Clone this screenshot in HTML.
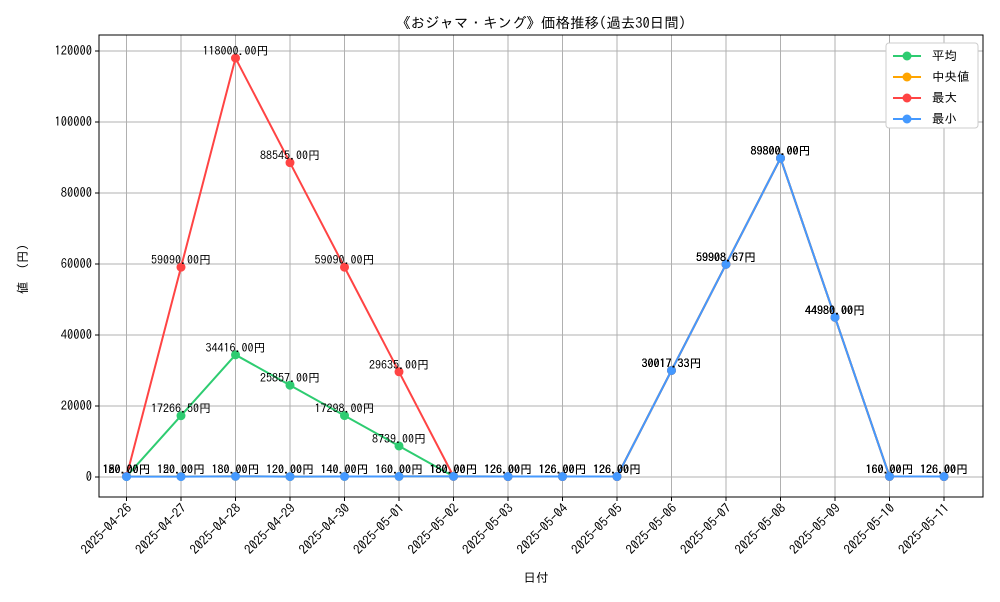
<!DOCTYPE html>
<html><head><meta charset="utf-8"><style>
body{margin:0;background:#fff;font-family:"IPAGothic","Liberation Sans",sans-serif}
text{font-family:"IPAGothic","Noto Sans CJK JP",sans-serif}
</style></head><body>
<svg id="c" width="1000" height="600" xmlns="http://www.w3.org/2000/svg"></svg>
<script>
const dates=["2025-04-26","2025-04-27","2025-04-28","2025-04-29","2025-04-30","2025-05-01","2025-05-02","2025-05-03","2025-05-04","2025-05-05","2025-05-06","2025-05-07","2025-05-08","2025-05-09","2025-05-10","2025-05-11"];
const avgVals=[150,17266.5,34416,25857,17298,8739,180,126,126,126,30017.33,59908.67,89800,44980,160,126];
const medVals=[150,150,180,120,140,160,180,126,126,126,30017.33,59908.67,89800,44980,160,126];
const maxVals=[180,59090,118000,88545,59090,29635,180,126,126,126,30017.33,59908.67,89800,44980,160,126];
const minVals=[120,120,180,120,140,160,180,126,126,126,30017.33,59908.67,89800,44980,160,126];
const yTicks=[0,20000,40000,60000,80000,100000,120000];
const L=99,R=983,T=35,B=497;
const x=i=>126.5+i*54.5, y=v=>477-v*426/120000;
const svg=document.getElementById('c');const NS='http://www.w3.org/2000/svg';
function mk(t,a,txt){const e=document.createElementNS(NS,t);for(const k in a)e.setAttribute(k,a[k]);if(txt!=null)e.textContent=txt;svg.appendChild(e);return e;}
let e;
e=mk('rect',{x:L,y:T,width:R-L,height:B-T,fill:'#fff',stroke:'none'});

dates.forEach((d,i)=>{
 e=mk('line',{x1:x(i),x2:x(i),y1:T,y2:B,stroke:'#b0b0b0','stroke-width':1});
 
 e=mk('line',{x1:x(i),x2:x(i),y1:B,y2:B+4,stroke:'#000'});
 
 e=mk('text',{x:x(i)+6,y:B+12,'font-size':13,'text-anchor':'end',transform:`rotate(-45 ${x(i)+6} ${B+12})`},d);
 
});
yTicks.forEach(v=>{
 e=mk('line',{x1:L,x2:R,y1:y(v),y2:y(v),stroke:'#b0b0b0','stroke-width':1});
 
 e=mk('line',{x1:L-4,x2:L,y1:y(v),y2:y(v),stroke:'#000'});
 
 e=mk('text',{x:L-7,y:y(v)+4,'font-size':12.5,'text-anchor':'end'},String(v));
 
});
e=mk('rect',{x:L,y:T,width:R-L,height:B-T,fill:'none',stroke:'#000'});

const series=[["avg",avgVals,"#2ecc71","平均"],["median",medVals,"#ffa500","中央値"],["max",maxVals,"#ff4444","最大"],["min",minVals,"#4499ff","最小"]];
series.forEach(([n,vals,col])=>{
 e=mk('polyline',{points:vals.map((v,i)=>x(i)+','+y(v)).join(' '),fill:'none',stroke:col,'stroke-width':2});
 
 vals.forEach((v,i)=>{
  e=mk('circle',{cx:x(i),cy:y(v),r:4.5,fill:col});
  
 });
});
series.forEach(([n,vals])=>{
 vals.forEach((v,i)=>{
  e=mk('text',{x:x(i),y:y(v)-3,'font-size':12,'text-anchor':'middle'},v.toFixed(2)+'円');
  
 });
});
e=mk('text',{x:541,y:28,'font-size':14.5,'text-anchor':'middle'},'《おジャマ・キング》価格推移(過去30日間)');

e=mk('text',{x:536,y:582,'font-size':12.5,'text-anchor':'middle'},'日付');

e=mk('text',{x:0,y:0,'font-size':12.5,'text-anchor':'middle',transform:'translate(27 266) rotate(-90)'},'値 （円）');

e=mk('rect',{x:886,y:43,width:92,height:85,fill:'#fff',stroke:'#ccc',rx:3});

series.forEach(([n,vals,col,lab],k)=>{
 const ly=56+k*21;
 e=mk('line',{x1:893,x2:921,y1:ly,y2:ly,stroke:col,'stroke-width':2});
 
 e=mk('circle',{cx:907,cy:ly,r:4.5,fill:col});
 
 e=mk('text',{x:932,y:ly+4,'font-size':12.5},lab);
 
});
</script>
</body></html>
